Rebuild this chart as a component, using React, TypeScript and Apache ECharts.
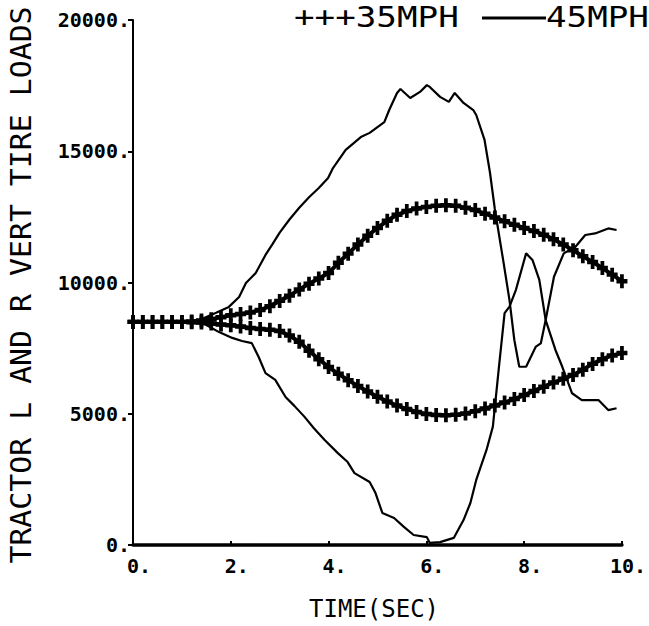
import React, { useEffect, useRef } from "react";
import * as echarts from "echarts";

// 35 MPH runs (plus-marked), sampled every 0.2 s
const T35 = [0, 0.2, 0.4, 0.6, 0.8, 1.0, 1.2, 1.4, 1.6, 1.8, 2.0, 2.2, 2.4, 2.6, 2.8, 3.0, 3.2, 3.4, 3.6, 3.8, 4.0, 4.2, 4.4, 4.6, 4.8, 5.0, 5.2, 5.4, 5.6, 5.8, 6.0, 6.2, 6.4, 6.6, 6.8, 7.0, 7.2, 7.4, 7.6, 7.8, 8.0, 8.2, 8.4, 8.6, 8.8, 9.0, 9.2, 9.4, 9.6, 9.8, 10.0];
const UPPER_35 = [8500, 8500, 8500, 8500, 8500, 8500, 8510, 8550, 8600, 8680, 8750, 8800, 8860, 8950, 9100, 9300, 9500, 9730, 9950, 10150, 10360, 10750, 11100, 11450, 11780, 12080, 12350, 12580, 12720, 12820, 12880, 12920, 12940, 12920, 12850, 12760, 12620, 12480, 12330, 12200, 12080, 11960, 11820, 11650, 11450, 11230, 11000, 10780, 10550, 10300, 10050];
const LOWER_35 = [8500, 8500, 8500, 8500, 8500, 8500, 8490, 8480, 8440, 8400, 8370, 8320, 8270, 8230, 8200, 8150, 7980, 7740, 7400, 7080, 6780, 6520, 6280, 6060, 5850, 5650, 5470, 5310, 5180, 5070, 4990, 4950, 4940, 4960, 5010, 5100, 5200, 5310, 5430, 5560, 5710, 5870, 6030, 6190, 6330, 6480, 6680, 6900, 7080, 7220, 7310];

// 45 MPH runs (solid lines)
const T45_A = [0, 1.3, 1.5, 1.7, 1.96, 2.17, 2.31, 2.51, 2.71, 2.85, 3.0, 3.2, 3.4, 3.6, 3.8, 3.99, 4.09, 4.35, 4.66, 4.84, 5.0, 5.14, 5.24, 5.4, 5.47, 5.67, 5.87, 6.01, 6.07, 6.28, 6.46, 6.58, 6.76, 6.96, 7.02, 7.19, 7.3, 7.4, 7.57, 7.7, 7.8, 7.9, 8.04, 8.24, 8.34, 8.44, 8.61, 8.81, 9.05, 9.25, 9.45, 9.72, 9.89];
const V45_A = [8500, 8500, 8690, 8850, 9070, 9450, 9980, 10360, 11050, 11450, 11900, 12400, 12850, 13250, 13600, 13980, 14360, 15050, 15540, 15700, 15920, 16110, 16570, 17220, 17370, 17030, 17260, 17520, 17450, 17070, 16880, 17220, 16840, 16570, 16380, 15430, 14200, 12800, 10860, 9330, 7800, 6790, 6790, 7560, 7680, 8570, 10220, 11110, 11360, 11810, 11870, 12060, 12000];
const T45_B = [0, 1.3, 1.5, 1.76, 2.03, 2.23, 2.43, 2.57, 2.71, 2.91, 3.12, 3.3, 3.5, 3.7, 3.92, 4.19, 4.39, 4.53, 4.84, 4.96, 5.1, 5.34, 5.54, 5.74, 6.01, 6.07, 6.28, 6.56, 6.76, 6.9, 7.02, 7.23, 7.36, 7.48, 7.6, 7.7, 7.83, 8.04, 8.17, 8.31, 8.44, 8.64, 8.78, 8.98, 9.18, 9.52, 9.72, 9.89];
const V45_B = [8500, 8500, 8380, 8110, 7890, 7770, 7690, 7160, 6550, 6290, 5640, 5300, 4900, 4450, 4000, 3500, 3160, 2740, 2400, 1980, 1220, 1030, 690, 380, 300, 80, 110, 270, 950, 1600, 2480, 3620, 4510, 6700, 8830, 9080, 9710, 11110, 10860, 10100, 8570, 7430, 6790, 5780, 5520, 5520, 5140, 5210];

const X_TICK_STEP = 2;
const Y_TICK_STEP = 5000;
const LEGEND_35 = "+++35MPH";
const LEGEND_45 = "45MPH";
const X_TITLE = "TIME(SEC)";
const Y_TITLE = "TRACTOR L AND R VERT TIRE LOADS";

const zip = (t: number[], v: number[]) => t.map((x, i) => [x, v[i]]);
const PLUS = "path://M3.3,0L6.7,0L6.7,3.4L10,3.4L10,6.6L6.7,6.6L6.7,10L3.3,10L3.3,6.6L0,6.6L0,3.4L3.3,3.4Z";
const MONO = '"DejaVu Sans Mono", monospace';

export default function App() {
  const ref = useRef<HTMLDivElement>(null);
  useEffect(() => {
    if (!ref.current) return;
    const chart = echarts.init(ref.current, null, { renderer: "svg" });
    const plusSeries = (data: number[][]) => ({
      name: "35MPH",
      type: "line",
      data,
      symbol: PLUS,
      symbolSize: [11, 14],
      showAllSymbol: true,
      lineStyle: { color: "#000", width: 4 },
      itemStyle: { color: "#000" },
      z: 3,
    });
    const solidSeries = (data: number[][]) => ({
      name: "45MPH",
      type: "line",
      data,
      showSymbol: false,
      symbol: "none",
      lineStyle: { color: "#000", width: 2.2 },
      itemStyle: { color: "#000" },
      z: 2,
    });
    chart.setOption({
      animation: false,
      backgroundColor: "#fff",
      grid: { left: 133, right: 22, top: 20, bottom: 81 },
      xAxis: {
        type: "value",
        min: 0,
        max: 10,
        interval: X_TICK_STEP,
        axisLine: { show: true, lineStyle: { color: "#000", width: 3.5 } },
        axisTick: { show: true, length: 4, inside: true, lineStyle: { color: "#000", width: 2 } },
        splitLine: { show: false },
        axisLabel: {
          formatter: (v: number) => v + ".",
          color: "#000",
          fontFamily: MONO,
          fontWeight: "bold",
          fontSize: 20,
          margin: 11,
          padding: [0, 0, 0, 12],
        },
      },
      yAxis: {
        type: "value",
        min: 0,
        max: 20000,
        interval: Y_TICK_STEP,
        axisLine: { show: true, lineStyle: { color: "#000", width: 2 } },
        axisTick: { show: true, length: 5, lineStyle: { color: "#000", width: 2 } },
        splitLine: { show: false },
        axisLabel: {
          formatter: (v: number) => v + ".",
          color: "#000",
          fontFamily: MONO,
          fontWeight: "bold",
          fontSize: 20,
          margin: 3,
        },
      },
      graphic: [
        {
          type: "text",
          x: 21,
          y: 285,
          rotation: Math.PI / 2,
          scaleX: 1.03,
          style: { text: Y_TITLE, font: `29px ${MONO}`, fill: "#000", textAlign: "center", textVerticalAlign: "middle" },
        },
        {
          type: "text",
          x: 374,
          y: 609,
          style: { text: X_TITLE, font: `24px ${MONO}`, fill: "#000", textAlign: "center", textVerticalAlign: "middle" },
        },
        {
          type: "text",
          x: 294,
          y: 17,
          scaleX: 1.18,
          style: { text: LEGEND_35, font: `29px ${MONO}`, fill: "#000", textAlign: "left", textVerticalAlign: "middle" },
        },
        {
          type: "line",
          shape: { x1: 482, y1: 18, x2: 546, y2: 18 },
          style: { stroke: "#000", lineWidth: 3 },
        },
        {
          type: "text",
          x: 546,
          y: 17,
          scaleX: 1.18,
          style: { text: LEGEND_45, font: `29px ${MONO}`, fill: "#000", textAlign: "left", textVerticalAlign: "middle" },
        },
      ],
      series: [
        solidSeries(zip(T45_A, V45_A)),
        solidSeries(zip(T45_B, V45_B)),
        plusSeries(zip(T35, UPPER_35)),
        plusSeries(zip(T35, LOWER_35)),
      ],
    });
    return () => chart.dispose();
  }, []);
  return <div ref={ref} style={{ position: "fixed", left: 0, top: 0, width: 649, height: 626 }} />;
}
